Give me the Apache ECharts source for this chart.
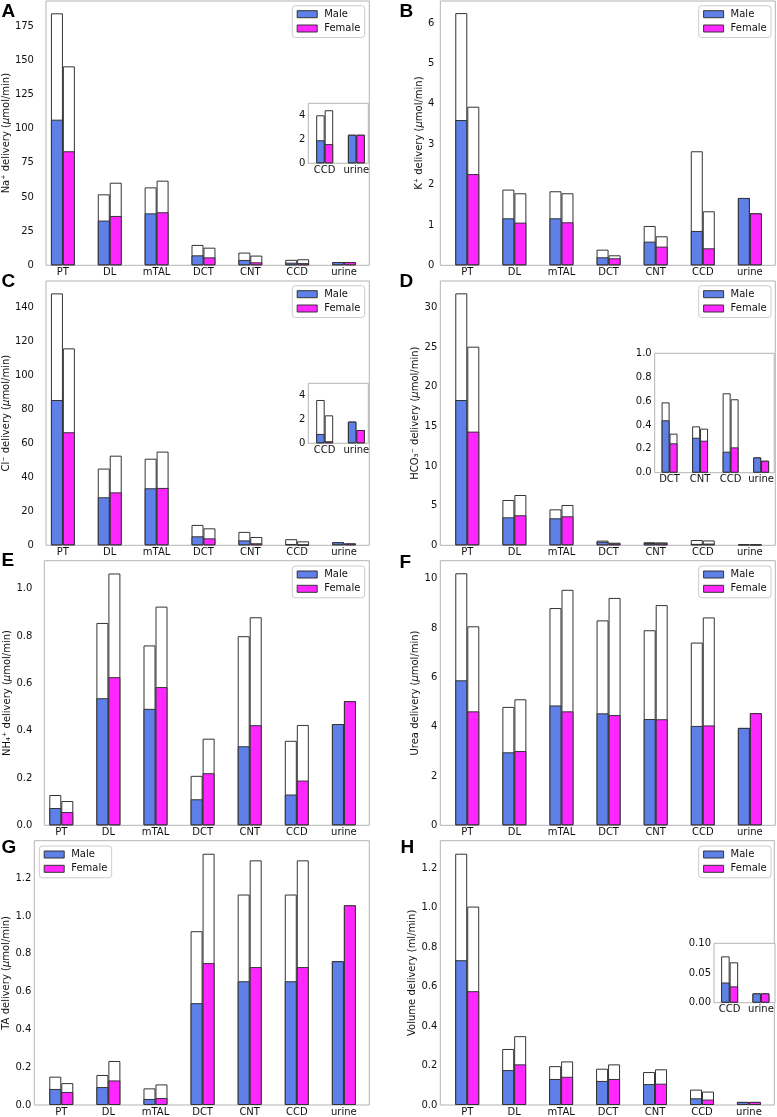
<!DOCTYPE html>
<html><head><meta charset="utf-8">
<script src="https://cdn.jsdelivr.net/npm/echarts@6/dist/echarts.min.js"></script>
<style>html,body{margin:0;padding:0;background:#fff}#c{width:777px;height:1117px}</style>
</head><body><div id="c"></div>
<script>
// ---------- data ----------
const categories = ['PT', 'DL', 'mTAL', 'DCT', 'CNT', 'CCD', 'urine'];

// Na+
const naMaleFilled   = [106.5, 32.7, 38.0, 7.3, 3.9, 1.92, 2.38];
const naMaleOpen     = [184.3, 51.9, 57.0, 14.9, 9.3, 4.0, 2.38];
const naFemaleFilled = [83.4, 36.1, 38.8, 5.8, 2.2, 1.6, 2.38];
const naFemaleOpen   = [145.5, 60.4, 61.9, 12.9, 7.1, 4.42, 2.38];
// K+
const kMaleFilled   = [3.60, 1.165, 1.165, 0.198, 0.587, 0.851, 1.669];
const kMaleOpen     = [6.25, 1.876, 1.835, 0.388, 0.975, 2.826, 1.669];
const kFemaleFilled = [2.26, 1.058, 1.066, 0.174, 0.463, 0.421, 1.289];
const kFemaleOpen   = [3.93, 1.785, 1.785, 0.248, 0.719, 1.339, 1.289];
// Cl-
const clMaleFilled   = [85.6, 28.3, 33.6, 5.3, 2.9, 0.78, 1.81];
const clMaleOpen     = [148.4, 45.2, 51.0, 12.0, 7.9, 3.61, 1.81];
const clFemaleFilled = [66.6, 31.2, 33.8, 4.1, 1.2, 0.17, 1.11];
const clFemaleOpen   = [116.0, 52.8, 55.2, 10.0, 4.9, 2.33, 1.11];
// HCO3-
const hcoMaleFilled   = [18.34, 3.53, 3.41, 0.439, 0.293, 0.176, 0.128];
const hcoMaleOpen     = [31.8, 5.72, 4.54, 0.589, 0.388, 0.665, 0.128];
const hcoFemaleFilled = [14.35, 3.79, 3.66, 0.246, 0.268, 0.212, 0.10];
const hcoFemaleOpen   = [25.07, 6.35, 5.09, 0.327, 0.369, 0.615, 0.10];
// NH4+
const nhMaleFilled   = [0.073, 0.537, 0.492, 0.110, 0.334, 0.130, 0.428];
const nhMaleOpen     = [0.128, 0.855, 0.760, 0.209, 0.799, 0.357, 0.428];
const nhFemaleFilled = [0.056, 0.626, 0.584, 0.220, 0.423, 0.189, 0.525];
const nhFemaleOpen   = [0.1025, 1.064, 0.924, 0.366, 0.879, 0.424, 0.525];
// Urea
const ureaMaleFilled   = [5.88, 2.96, 4.86, 4.54, 4.31, 4.03, 3.95];
const ureaMaleOpen     = [10.22, 4.80, 8.81, 8.31, 7.91, 7.41, 3.95];
const ureaFemaleFilled = [4.62, 3.01, 4.62, 4.47, 4.30, 4.05, 4.55];
const ureaFemaleOpen   = [8.07, 5.11, 9.55, 9.22, 8.93, 8.43, 4.55];
// TA
const taMaleFilled   = [0.085, 0.095, 0.032, 0.539, 0.655, 0.655, 0.761];
const taMaleOpen     = [0.150, 0.159, 0.088, 0.920, 1.114, 1.114, 0.761];
const taFemaleFilled = [0.069, 0.130, 0.037, 0.751, 0.730, 0.730, 1.057];
const taFemaleOpen   = [0.116, 0.233, 0.109, 1.330, 1.295, 1.295, 1.057];
// Volume
const volMaleFilled   = [0.734, 0.177, 0.132, 0.122, 0.106, 0.034, 0.0157];
const volMaleOpen     = [1.274, 0.284, 0.197, 0.184, 0.167, 0.078, 0.0157];
const volFemaleFilled = [0.577, 0.206, 0.143, 0.132, 0.108, 0.0275, 0.0157];
const volFemaleOpen   = [1.006, 0.349, 0.221, 0.206, 0.181, 0.068, 0.0157];

const yTitles = {
  A: 'Na⁺ delivery ({i|μ}mol/min)',
  B: 'K⁺ delivery ({i|μ}mol/min)',
  C: 'Cl⁻ delivery ({i|μ}mol/min)',
  D: 'HCO₃⁻ delivery ({i|μ}mol/min)',
  E: 'NH₄⁺ delivery ({i|μ}mol/min)',
  F: 'Urea delivery ({i|μ}mol/min)',
  G: 'TA delivery ({i|μ}mol/min)',
  H: 'Volume delivery (ml/min)'
};

// ---------- styling / layout ----------
const FONT = 'DejaVu Sans';
const BLUE = '#5E80E8', MAG = '#FF26FF', EDGE = '#333333', FRAME = '#b3b3b3', TXT = '#111';
const ALL = [0, 1, 2, 3, 4, 5, 6];

const panels = [
  {k:'A', d:[naMaleFilled, naMaleOpen, naFemaleFilled, naFemaleOpen], l:44.3, t:1, w:325, h:264.3, ymax:193.3, iv:25, dec:0, lm:12, ng:30, xmin:-0.361, xmax:6.539, leg:{left:292.3, top:5.7}, letter:[1.5, 12.2],
   inset:{l:308.3, t:103.3, w:60, h:60, ymax:5, iv:2, dec:0, idx:[5,6], xmin:-0.517, xmax:1.376, bw:8.5}},
  {k:'B', d:[kMaleFilled, kMaleOpen, kFemaleFilled, kFemaleOpen], l:440.3, t:1, w:335, h:264.3, ymax:6.55, iv:1, dec:0, lm:6, ng:10, xmin:-0.573, xmax:6.54, leg:{left:698.7, top:5.7}, letter:[399.5, 12.2]},
  {k:'C', d:[clMaleFilled, clMaleOpen, clFemaleFilled, clFemaleOpen], l:44.3, t:281, w:325, h:264.3, ymax:155.7, iv:20, dec:0, lm:12, ng:30, xmin:-0.361, xmax:6.539, leg:{left:292.3, top:285.7}, letter:[1.5, 282],
   inset:{l:308.3, t:383.3, w:60, h:60, ymax:5, iv:2, dec:0, idx:[5,6], xmin:-0.517, xmax:1.376, bw:8.5}},
  {k:'D', d:[hcoMaleFilled, hcoMaleOpen, hcoFemaleFilled, hcoFemaleOpen], l:440.3, t:281, w:335, h:264.3, ymax:33.36, iv:5, dec:0, lm:3, ng:15, xmin:-0.573, xmax:6.54, leg:{left:698.7, top:285.7}, letter:[399.5, 282],
   inset:{l:654.7, t:353.3, w:120.6, h:119.4, ymax:1.0, iv:0.2, dec:1, idx:[3,4,5,6], xmin:-0.487, xmax:3.429, bw:8, showMax:true}},
  {k:'E', d:[nhMaleFilled, nhMaleOpen, nhFemaleFilled, nhFemaleOpen], l:44.3, t:560.7, w:325, h:264.6, ymax:1.118, iv:0.2, dec:1, lm:12, ng:29, xmin:-0.361, xmax:6.539, leg:{left:292.3, top:566}, letter:[1.5, 561]},
  {k:'F', d:[ureaMaleFilled, ureaMaleOpen, ureaFemaleFilled, ureaFemaleOpen], l:440.3, t:560.7, w:335, h:264.6, ymax:10.73, iv:2, dec:0, lm:3, ng:15, xmin:-0.573, xmax:6.54, leg:{left:698.7, top:566}, letter:[399.5, 563]},
  {k:'G', d:[taMaleFilled, taMaleOpen, taFemaleFilled, taFemaleOpen], l:34.3, t:840.7, w:335, h:264.6, ymax:1.399, iv:0.2, dec:1, lm:3, ng:19, xmin:-0.573, xmax:6.54, leg:{left:39.3, top:846}, letter:[1.5, 848]},
  {k:'H', d:[volMaleFilled, volMaleOpen, volFemaleFilled, volFemaleOpen], l:440.3, t:840.7, w:334, h:264.6, ymax:1.34, iv:0.2, dec:1, lm:3, ng:19, xmin:-0.573, xmax:6.54, leg:{left:698.7, top:846}, letter:[400.5, 848],
   inset:{l:714, t:943.3, w:61, h:59.4, ymax:0.1, iv:0.05, dec:2, idx:[5,6], xmin:-0.5, xmax:1.45, bw:8.5, showMax:true}}
];

const option = {animation:false, grid:[], xAxis:[], yAxis:[], series:[], legend:[], graphic:[]};

function addPlot(cfg, data, idx, bw, title) {
  const gi = option.grid.length;
  option.grid.push({left:cfg.l, top:cfg.t, width:cfg.w, height:cfg.h, show:true, borderColor:FRAME, borderWidth:1, backgroundColor:'#fff'});
  // label axis (category positions 0..n-1 on a value scale)
  const hidden = {axisLine:{show:false}, axisTick:{show:false}, splitLine:{show:false}, axisLabel:{show:false}};
  const xLab = option.xAxis.length;
  option.xAxis.push({
    type:'value', gridIndex:gi, min:cfg.xmin, max:cfg.xmax,
    axisLine:{show:false}, axisTick:{show:false}, splitLine:{show:false},
    axisLabel:{customValues: idx.map((_, i) => i), formatter: v => categories[idx[Math.round(v)]],
      fontSize:10, fontFamily:FONT, color:TXT, margin:2}
  });
  // half-bar shift in axis units so the Male / Female bars sit side by side
  const d = (bw / 2) * (cfg.xmax - cfg.xmin) / cfg.w;
  const xM = option.xAxis.length;
  option.xAxis.push(Object.assign({type:'value', gridIndex:gi, min:cfg.xmin + d, max:cfg.xmax + d}, hidden));
  const xF = option.xAxis.length;
  option.xAxis.push(Object.assign({type:'value', gridIndex:gi, min:cfg.xmin - d, max:cfg.xmax - d}, hidden));

  const yi = option.yAxis.length;
  const yAx = {
    type:'value', gridIndex:gi, min:0, max:cfg.ymax, interval:cfg.iv,
    axisLine:{show:false}, splitLine:{show:false},
    axisTick:{show:false},
    axisLabel:{fontSize:10, fontFamily:FONT, color:TXT, margin:cfg.lm, showMaxLabel: !!cfg.showMax,
      formatter: v => Number(v).toFixed(cfg.dec)}
  };
  if (title) {
    Object.assign(yAx, {name:title, nameLocation:'middle', nameRotate:90, nameGap:cfg.ng,
      nameTextStyle:{fontSize:10, fontFamily:FONT, color:TXT, rich:{i:{fontSize:10, fontFamily:FONT, fontStyle:'italic', color:TXT}}}});
  }
  option.yAxis.push(yAx);
  const [mf, mo, ff, fo] = data;
  const pts = arr => idx.map((k, i) => [i, arr[k]]);
  const base = {type:'bar', yAxisIndex:yi, barWidth:bw, barGap:'-100%', silent:true};
  option.series.push(
    Object.assign({}, base, {name:'Male open', xAxisIndex:xM, data:pts(mo), itemStyle:{color:'#fff', borderColor:EDGE, borderWidth:1}}),
    Object.assign({}, base, {name:'Male', xAxisIndex:xM, data:pts(mf), itemStyle:{color:BLUE, borderColor:EDGE, borderWidth:1}}),
    Object.assign({}, base, {name:'Female open', xAxisIndex:xF, data:pts(fo), itemStyle:{color:'#fff', borderColor:EDGE, borderWidth:1}}),
    Object.assign({}, base, {name:'Female', xAxisIndex:xF, data:pts(ff), itemStyle:{color:MAG, borderColor:EDGE, borderWidth:1}})
  );
}

panels.forEach(p => {
  addPlot(p, p.d, ALL, 12, yTitles[p.k]);
  if (p.inset) {
    const q = p.inset;
    addPlot({l:q.l, t:q.t, w:q.w, h:q.h, ymax:q.ymax, iv:q.iv, dec:q.dec, lm:3, xmin:q.xmin, xmax:q.xmax, showMax:q.showMax}, p.d, q.idx, q.bw, null);
  }
  option.legend.push({
    left:p.leg.left, top:p.leg.top, orient:'vertical', data:['Male', 'Female'], icon:'rect',
    itemWidth:20, itemHeight:7, itemGap:2.3, padding:[2.5, 4.3, 3, 4.4], selectedMode:false,
    backgroundColor:'rgba(255,255,255,0.8)', borderColor:'#cccccc', borderWidth:1, borderRadius:3,
    itemStyle:{borderColor:EDGE, borderWidth:1},
    textStyle:{fontSize:10, fontFamily:FONT, color:TXT, lineHeight:12, padding:[0, 0, 0, 2]}
  });
  option.graphic.push({type:'text', x:p.letter[0], y:p.letter[1], z:100,
    style:{text:p.k, fill:'#000', fontSize:19, fontWeight:'bold', fontFamily:'Liberation Sans', verticalAlign:'middle', align:'left'}});
});

const chart = echarts.init(document.getElementById('c'), null, {renderer:'canvas'});
chart.setOption(option);
</script></body></html>
